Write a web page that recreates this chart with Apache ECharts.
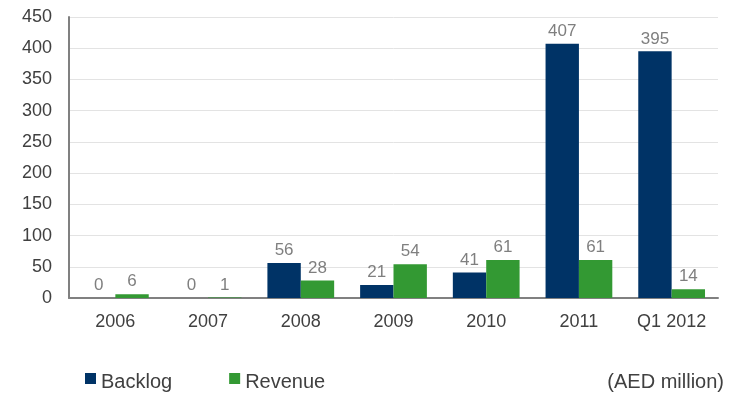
<!DOCTYPE html>
<html><head><meta charset="utf-8">
<script src="https://cdn.jsdelivr.net/npm/echarts@6/dist/echarts.min.js"></script>
<style>html,body{margin:0;padding:0;background:#fff}#c{width:734px;height:396px}</style>
</head><body><div id="c"></div>
<script>
const categories = ['2006','2007','2008','2009','2010','2011','Q1 2012'];
const backlog = [0, 0, 56, 21, 41, 407, 395];
const revenue = [6, 1, 28, 54, 61, 61, 14];
const unitNote = '(AED million)';

const chart = echarts.init(document.getElementById('c'), null, {renderer:'canvas'});
const font = 'Liberation Sans, Arial, sans-serif';
const lbl = {show:true, position:'top', color:'#7f7f7f', fontSize:17, fontFamily:font, distance:4};
chart.setOption({
  animation:false,
  grid:{left:69, right:16, top:17, bottom:98},
  legend:{
    left:80, top:367, itemWidth:11, itemHeight:18, itemGap:57,
    icon:'path://M0,0L11,0L11,11L0,11Z M0,18L0.01,18L0.01,18Z',
    textStyle:{fontSize:20, color:'#404040', fontFamily:font},
    data:['Backlog','Revenue']
  },
  graphic:[{type:'text', right:10, top:372, style:{text:unitNote, fontSize:20, fill:'#404040', fontFamily:font}}],
  xAxis:{type:'category', data:categories,
    axisLine:{lineStyle:{color:'#808080', width:2}}, axisTick:{show:false},
    axisLabel:{color:'#404040', fontSize:18, fontFamily:font, margin:15}},
  yAxis:{type:'value', min:0, max:450, interval:50,
    axisLine:{show:true, lineStyle:{color:'#808080', width:2}}, axisTick:{show:false},
    splitLine:{lineStyle:{color:'#e3e3e3', width:1}},
    axisLabel:{color:'#404040', fontSize:18, fontFamily:font, margin:17}},
  series:[
    {name:'Backlog', type:'bar', data:backlog, barGap:'0%', barCategoryGap:'28%',
     itemStyle:{color:'#003366'}, label:lbl},
    {name:'Revenue', type:'bar', data:revenue,
     itemStyle:{color:'#339933'}, label:lbl}
  ]
});
</script></body></html>
